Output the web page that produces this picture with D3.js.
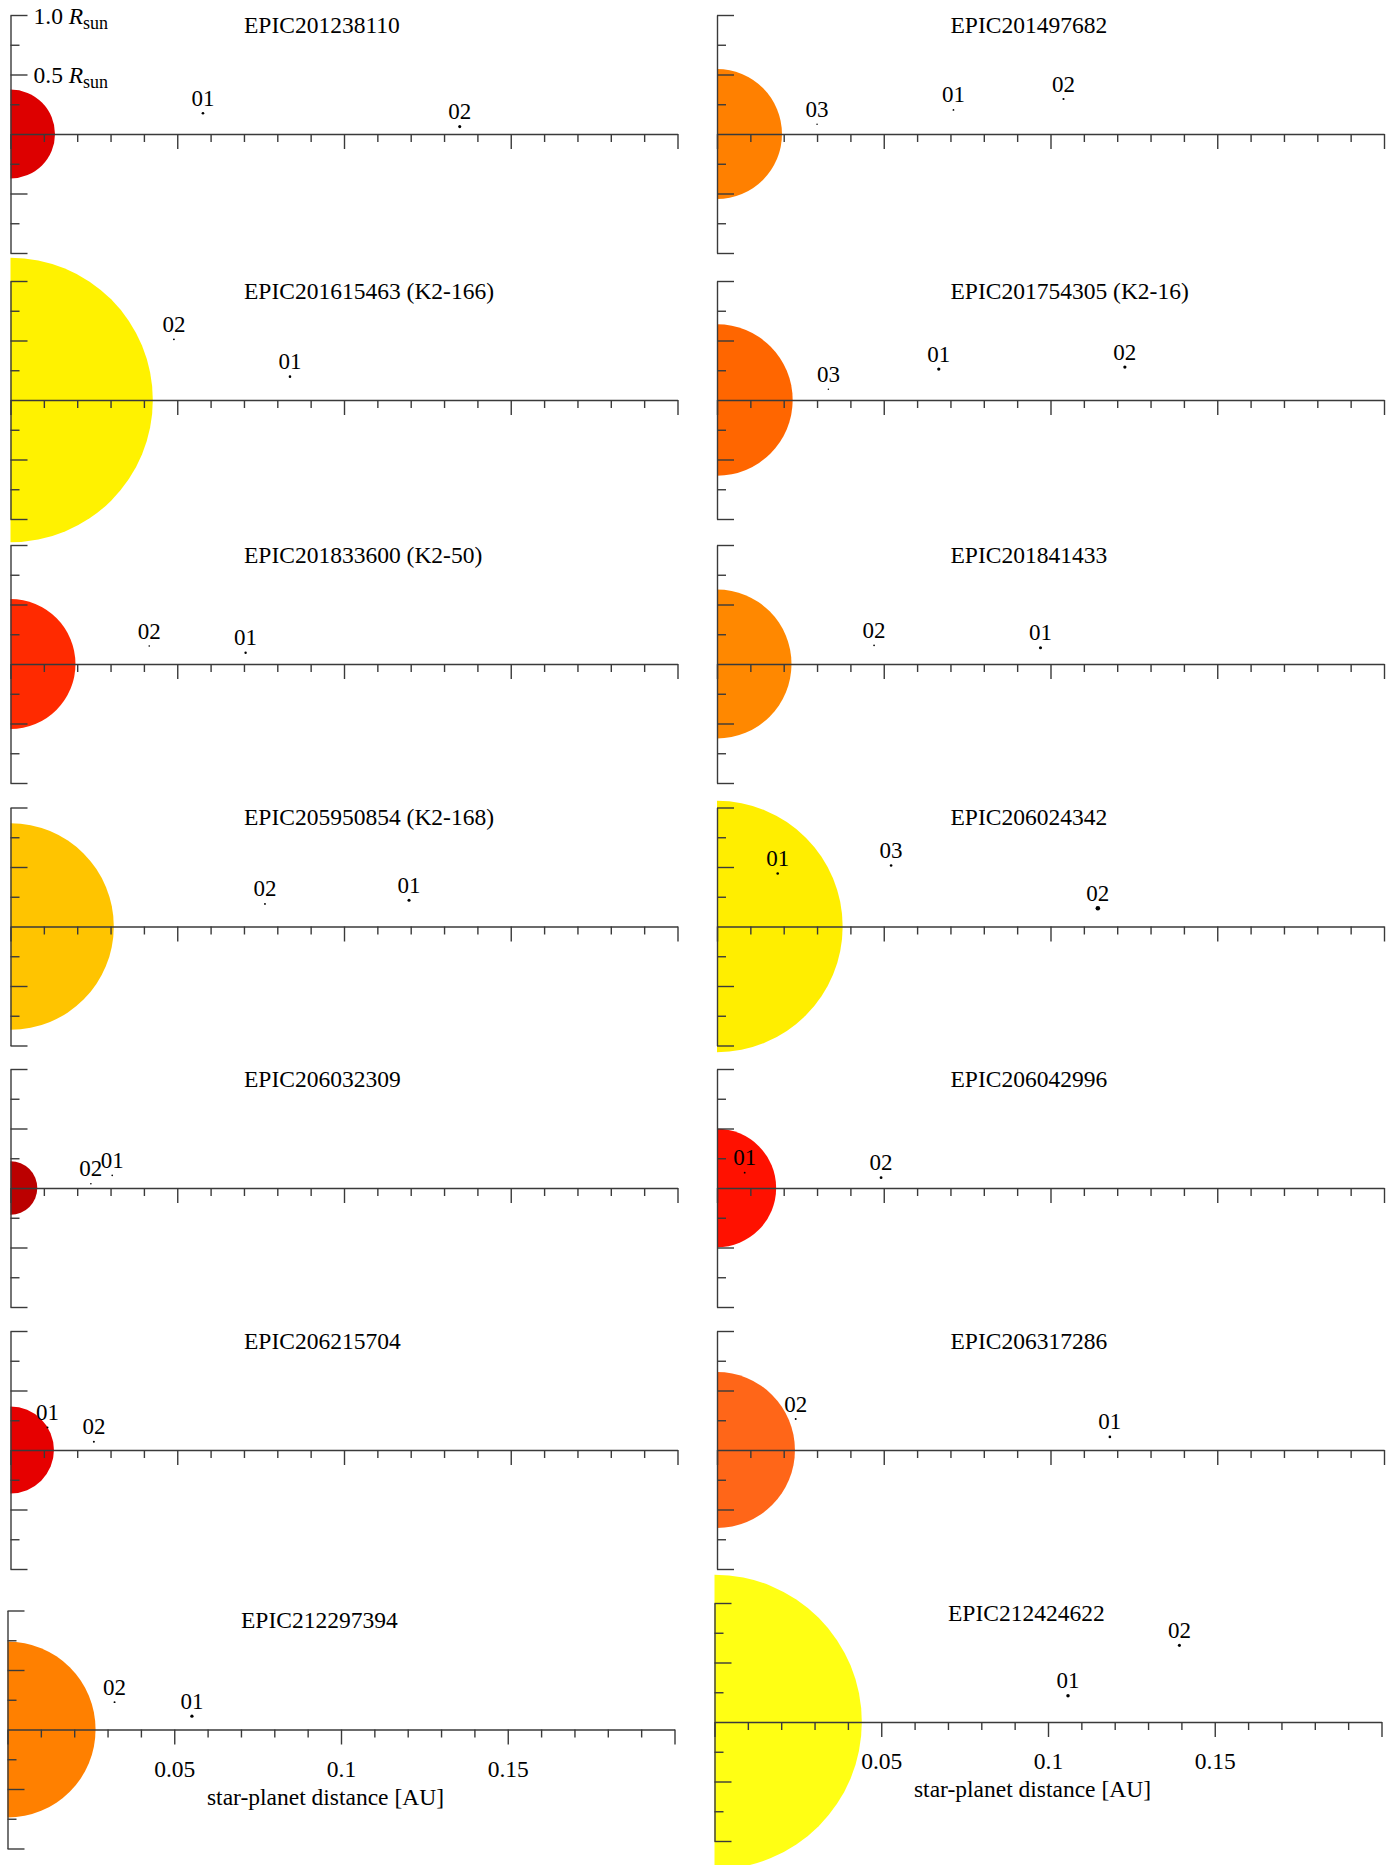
<!DOCTYPE html>
<html>
<head>
<meta charset="utf-8">
<script src="https://cdn.jsdelivr.net/npm/d3@7"></script>
<style>
  html, body { margin: 0; padding: 0; background: #fff; }
  svg text { font-family: "Liberation Serif", "Times New Roman", Times, serif; fill: #000; }
</style>
</head>
<body>
<svg id="chart" width="1400" height="1865"></svg>
<script>
// ---- data -------------------------------------------------------------
// One entry per system, in reading order (left column, then right column, row by row).
const systemNames = [
  "EPIC201238110", "EPIC201497682",
  "EPIC201615463 (K2-166)", "EPIC201754305 (K2-16)",
  "EPIC201833600 (K2-50)", "EPIC201841433",
  "EPIC205950854 (K2-168)", "EPIC206024342",
  "EPIC206032309", "EPIC206042996",
  "EPIC206215704", "EPIC206317286",
  "EPIC212297394", "EPIC212424622"
];

// stellar radius [R_sun]
const starRadii = [0.374, 0.546, 1.196, 0.636, 0.546, 0.626, 0.868, 1.056, 0.225, 0.497, 0.365, 0.655, 0.740, 1.238];

// stellar colour (by spectral type)
const starColors = ["#dd0000", "#ff8000", "#fff200", "#ff6600", "#ff2a00", "#ff8800", "#ffc400",
                    "#ffee00", "#bb0000", "#ff1100", "#e60000", "#ff6618", "#ff8000", "#ffff14"];

// planet designations
const planetLabels = [
  ["01", "02"], ["03", "01", "02"], ["02", "01"], ["03", "01", "02"],
  ["02", "01"], ["02", "01"], ["02", "01"], ["01", "03", "02"],
  ["02", "01"], ["01", "02"], ["01", "02"], ["02", "01"],
  ["02", "01"], ["01", "02"]
];

// star-planet distance [AU]
const planetDistance = [
  [0.0577, 0.1347], [0.0300, 0.0709, 0.1039], [0.0490, 0.0838], [0.0334, 0.0665, 0.1223],
  [0.0416, 0.0705], [0.0471, 0.0970], [0.0763, 0.1195], [0.0182, 0.0522, 0.1142],
  [0.0241, 0.0305], [0.0083, 0.0492], [0.0111, 0.0250], [0.0236, 0.1178],
  [0.0321, 0.0553], [0.1060, 0.1394]
];

// vertical offset of each planet above the orbital axis [R_sun]
const planetHeight = [
  [0.174, 0.062], [0.081, 0.202, 0.294], [0.510, 0.196], [0.090, 0.260, 0.277],
  [0.151, 0.095], [0.157, 0.137], [0.190, 0.221], [0.445, 0.513, 0.154],
  [0.036, 0.106], [0.129, 0.087], [0.190, 0.070], [0.260, 0.110],
  [0.230, 0.112], [0.221, 0.644]
];

// planet radius [R_earth]
const planetRadius = [
  [1.2, 1.4], [0.7, 0.8, 1.0], [0.85, 1.2], [0.7, 1.5, 1.5],
  [0.75, 1.1], [0.8, 1.4], [0.9, 1.4], [1.2, 1.2, 2.1],
  [0.75, 0.75], [0.85, 1.3], [0.9, 0.9], [0.9, 1.2],
  [0.9, 1.5], [1.6, 1.4]
];

// axis tick labels
const xTickValues = [0.05, 0.1, 0.15];
const xTickLabels = ["0.05", "0.1", "0.15"];
const yTickValues = [1.0, 0.5];
const yTickLabels = ["1.0", "0.5"];
const xAxisTitle = "star-planet distance [AU]";

// ---- layout -----------------------------------------------------------
const svg = d3.select("#chart");
const AXIS_LEN = 667;            // 0 .. 0.2 AU
const HALF_H = 119;              // 1 R_sun
const RSUN_IN_REARTH = 109.1;
const rowAxisY = [134, 400, 664, 926.5, 1188, 1450];
const FONT = 23.5;
const LABEL_FONT = 23;

function panelFrame(i) {
  const row = Math.floor(i / 2), col = i % 2;
  if (row < 6) return { x0: col === 0 ? 10.5 : 717, axisY: rowAxisY[row], bottom: false };
  return { x0: col === 0 ? 7.5 : 714.5, axisY: col === 0 ? 1729.5 : 1722, bottom: true };
}

const defs = svg.append("defs");

systemNames.forEach((name, i) => {
  const f = panelFrame(i);
  const x = d3.scaleLinear().domain([0, 0.2]).range([f.x0, f.x0 + AXIS_LEN]);
  const y = d3.scaleLinear().domain([-1, 1]).range([f.axisY + HALF_H, f.axisY - HALF_H]);
  const g = svg.append("g").attr("class", "panel");

  // only the half of the star on the positive-distance side is shown
  defs.append("clipPath").attr("id", "clip" + i)
    .append("rect").attr("x", x(0)).attr("y", 0).attr("width", AXIS_LEN + 40).attr("height", 1865);

  g.append("circle")
    .attr("clip-path", `url(#clip${i})`)
    .attr("cx", x(0)).attr("cy", y(0))
    .attr("r", y(0) - y(starRadii[i]))
    .attr("fill", starColors[i]);

  // vertical axis: major ticks every 0.5 R_sun, minor every 0.25 R_sun
  const yMajor = g.append("g").attr("transform", `translate(${x(0)},0)`)
    .call(d3.axisRight(y).tickValues([-1, -0.5, 0.5, 1]).tickSize(17).tickSizeOuter(0).tickFormat(""));
  const yMinor = g.append("g").attr("transform", `translate(${x(0)},0)`)
    .call(d3.axisRight(y).tickValues([-0.75, -0.25, 0.25, 0.75]).tickSize(9).tickSizeOuter(0).tickFormat(""));
  yMinor.select(".domain").remove();

  // horizontal axis: major ticks every 0.05 AU, minor every 0.01 AU
  const minorVals = d3.range(1, 20).filter(k => k % 5 !== 0).map(k => k / 100);
  const xMajor = g.append("g").attr("transform", `translate(0,${f.axisY})`)
    .call(d3.axisBottom(x).tickValues([0, 0.05, 0.1, 0.15, 0.2]).tickSize(15).tickSizeOuter(0).tickFormat(""));
  const xMinor = g.append("g").attr("transform", `translate(0,${f.axisY})`)
    .call(d3.axisBottom(x).tickValues(minorVals).tickSize(8).tickSizeOuter(0).tickFormat(""));
  xMinor.select(".domain").remove();

  [yMajor, yMinor, xMajor, xMinor].forEach(a => {
    a.attr("color", "#3a3a3a");
    a.selectAll("path, line").attr("stroke-width", 1.4);
  });

  if (f.bottom) {
    const lab = g.append("g").attr("transform", `translate(0,${f.axisY})`)
      .call(d3.axisBottom(x).tickValues(xTickValues).tickSize(0)
        .tickFormat((d, k) => xTickLabels[k]));
    lab.select(".domain").remove();
    lab.selectAll("text")
      .attr("y", 47).attr("dy", null)
      .style("font-family", '"Liberation Serif","Times New Roman",serif')
      .style("font-size", FONT + "px").attr("fill", "#000");
    g.append("text")
      .attr("x", f.x0 + 318).attr("y", f.axisY + 75)
      .attr("text-anchor", "middle").style("font-size", FONT + "px")
      .text(xAxisTitle);
  }

  // stellar-radius scale labels in the first panel
  if (i === 0) {
    yTickValues.forEach((v, k) => {
      const t = g.append("text")
        .attr("x", x(0) + 23).attr("y", y(v) + 8.5)
        .style("font-size", FONT + "px");
      t.append("tspan").text(yTickLabels[k] + " ");
      t.append("tspan").style("font-style", "italic").text("R");
      t.append("tspan").attr("dy", 5).style("font-size", "18px").text("sun");
    });
  }

  // system name
  g.append("text")
    .attr("x", f.x0 + 233.5).attr("y", f.axisY - 101.5)
    .style("font-size", FONT + "px")
    .text(name);

  // planets
  const planets = planetLabels[i].map((lbl, k) => ({
    lbl, a: planetDistance[i][k], h: planetHeight[i][k], r: planetRadius[i][k]
  }));
  g.selectAll("circle.planet").data(planets).join("circle")
    .attr("class", "planet")
    .attr("cx", d => x(d.a)).attr("cy", d => y(d.h))
    .attr("r", d => y(0) - y(d.r / RSUN_IN_REARTH))
    .attr("fill", "#000");
  g.selectAll("text.plabel").data(planets).join("text")
    .attr("class", "plabel")
    .attr("x", d => x(d.a)).attr("y", d => y(d.h) - 7.5)
    .attr("text-anchor", "middle")
    .style("font-size", LABEL_FONT + "px")
    .text(d => d.lbl);
});
</script>
</body>
</html>
